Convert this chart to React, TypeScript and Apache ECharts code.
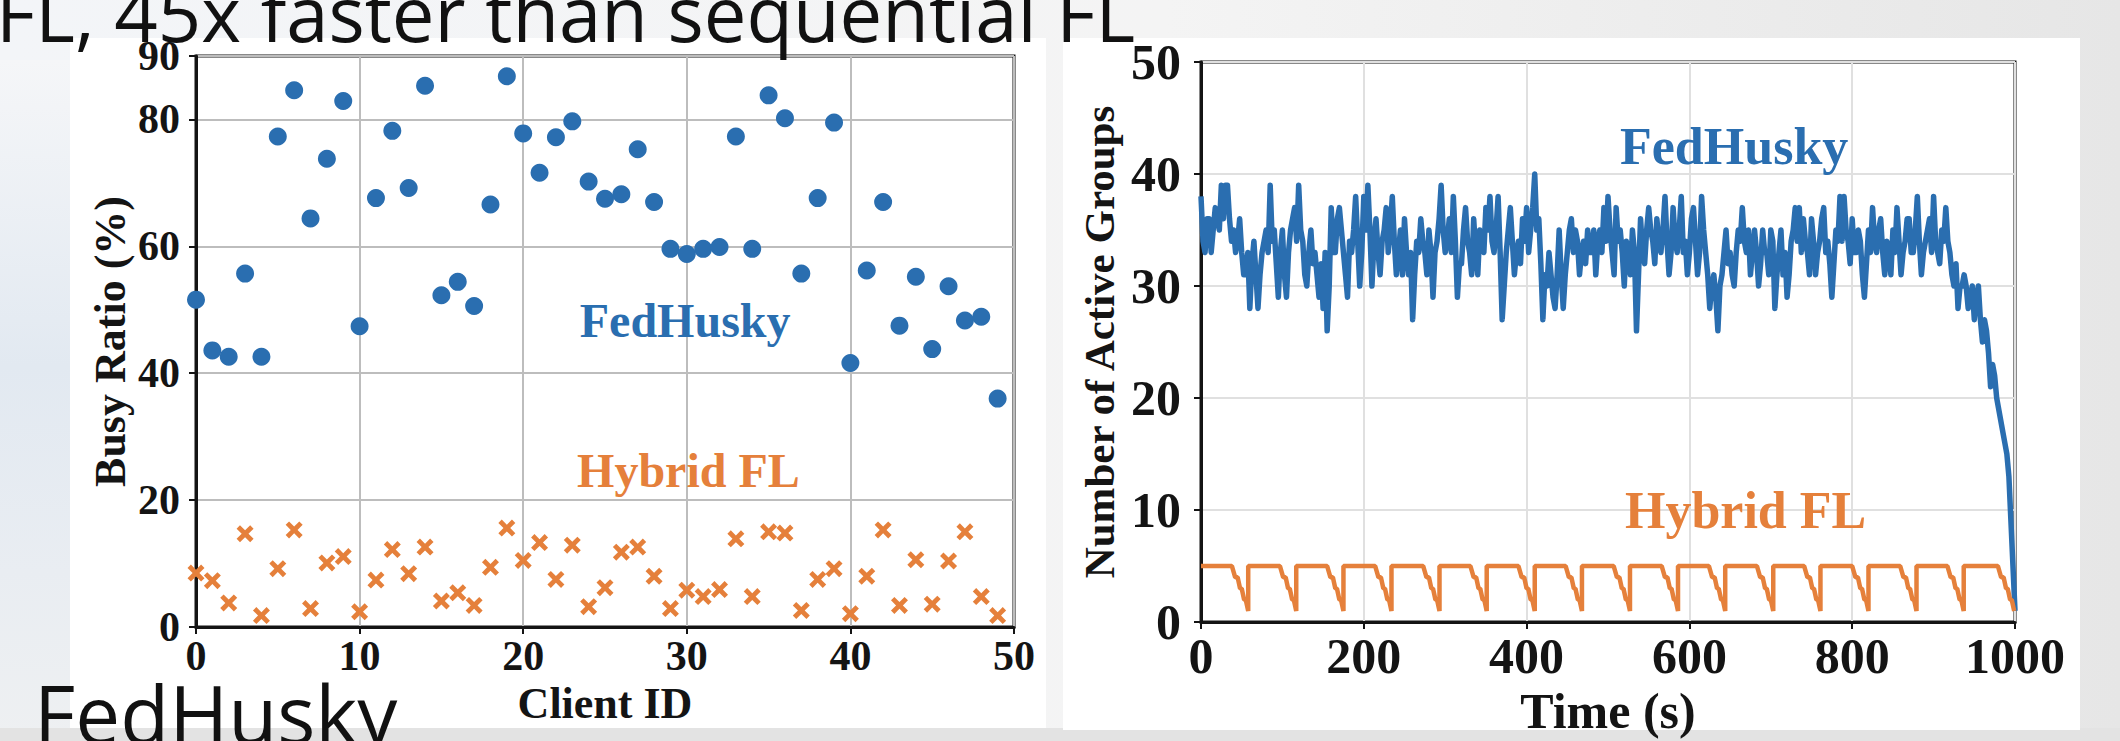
import React, { useEffect, useRef } from "react";
import * as echarts from "echarts";

// ---------- Left chart: busy ratio per client ----------
const clientIds = [
  0, 1, 2, 3, 4, 5, 6, 7, 8, 9, 10, 11, 12, 13, 14, 15, 16, 17, 18, 19, 20, 21, 22, 23, 24,
  25, 26, 27, 28, 29, 30, 31, 32, 33, 34, 35, 36, 37, 38, 39, 40, 41, 42, 43, 44, 45, 46, 47, 48, 49,
];
const fedHuskyBusy = [
  51.6, 43.6, 42.6, 55.7, 42.6, 77.3, 84.6, 64.4, 73.8, 82.9, 47.4, 67.6, 78.2, 69.2, 85.3, 52.3,
  54.4, 50.6, 66.6, 86.8, 77.8, 71.6, 77.2, 79.7, 70.2, 67.5, 68.2, 75.3, 67.0, 59.6, 58.8, 59.6,
  59.9, 77.3, 59.6, 83.8, 80.2, 55.7, 67.6, 79.5, 41.6, 56.2, 67.0, 47.5, 55.2, 43.8, 53.7, 48.3,
  48.9, 36.0,
];
const hybridBusy = [
  8.5, 7.3, 3.8, 14.7, 1.8, 9.2, 15.3, 2.9, 10.1, 11.1, 2.4, 7.4, 12.2, 8.4, 12.6, 4.1, 5.4, 3.4,
  9.4, 15.6, 10.5, 13.3, 7.5, 12.9, 3.2, 6.2, 11.8, 12.6, 8.0, 2.9, 5.8, 4.8, 5.9, 13.9, 4.8, 15.0,
  14.8, 2.6, 7.5, 9.2, 2.1, 8.0, 15.3, 3.4, 10.6, 3.6, 10.4, 15.0, 4.8, 1.8,
];
const leftXTicks = [0, 10, 20, 30, 40, 50];
const leftYTicks = [0, 20, 40, 60, 80, 90];

// ---------- Right chart: number of active groups over time ----------
const timeStep = 2.5; // seconds between FedHusky samples
const fedHuskyGroups = [
  38, 34, 33, 36, 36, 33, 35, 37, 36, 35, 39, 36, 39, 39, 36, 34, 35, 33, 34, 36,
  33, 31, 31, 33, 28, 32, 34, 31, 28, 31, 33, 34, 35, 33, 39, 34, 35, 32, 29, 33,
  35, 31, 29, 33, 35, 36, 37, 34, 39, 35, 34, 31, 30, 33, 35, 32, 33, 31, 29, 32,
  28, 33, 26, 30, 37, 33, 33, 36, 37, 35, 33, 31, 29, 34, 33, 35, 38, 34, 30, 33,
  38, 35, 39, 35, 30, 34, 36, 33, 31, 34, 35, 37, 33, 35, 38, 34, 31, 33, 35, 31,
  36, 33, 31, 33, 27, 31, 34, 33, 36, 34, 33, 31, 35, 33, 29, 33, 34, 36, 39, 35,
  33, 34, 36, 33, 38, 34, 29, 32, 32, 35, 37, 34, 33, 31, 36, 33, 31, 35, 34, 33,
  37, 35, 38, 34, 33, 35, 38, 33, 27, 30, 33, 35, 37, 34, 31, 33, 34, 32, 36, 34,
  37, 33, 35, 37, 40, 35, 36, 32, 27, 31, 30, 33, 31, 29, 28, 31, 35, 31, 28, 31,
  33, 35, 36, 33, 35, 34, 31, 33, 34, 32, 35, 33, 33, 35, 31, 34, 35, 33, 37, 34,
  38, 35, 33, 31, 37, 34, 35, 33, 30, 34, 33, 31, 35, 33, 26, 31, 36, 33, 32, 35,
  37, 35, 34, 32, 36, 34, 33, 35, 38, 34, 31, 33, 37, 34, 33, 35, 38, 33, 34, 31,
  33, 36, 37, 34, 31, 33, 38, 35, 33, 31, 28, 30, 31, 29, 26, 30, 31, 33, 35, 32,
  33, 31, 30, 33, 35, 34, 37, 34, 33, 35, 31, 33, 35, 33, 30, 32, 35, 33, 33, 31,
  35, 34, 28, 31, 33, 35, 31, 33, 29, 31, 34, 35, 37, 34, 37, 33, 36, 34, 33, 31,
  36, 34, 31, 33, 34, 36, 37, 33, 34, 32, 29, 32, 35, 34, 38, 34, 38, 35, 34, 32,
  36, 33, 33, 35, 34, 31, 29, 32, 35, 33, 37, 34, 33, 35, 36, 33, 31, 34, 33, 31,
  35, 33, 37, 34, 31, 33, 34, 36, 36, 33, 33, 35, 38, 34, 31, 33, 34, 35, 36, 33,
  38, 34, 33, 32, 35, 34, 37, 34, 33, 31, 30, 32, 28, 30, 30, 31, 30, 28, 29, 30,
  27, 29, 30, 27, 25, 27, 26, 24, 21, 23, 22, 20, 19, 18, 17, 16, 15, 13, 9, 5,
  1,
];
const hybridGroups: [number, number][] = [
  [0, 5], [38, 5], [42, 4], [45, 4], [48, 3], [50, 3], [53, 2], [55, 2], [58, 1], [58, 5],
  [97, 5], [101, 4], [104, 4], [107, 3], [109, 3], [112, 2], [114, 2], [117, 1], [117, 5],
  [155, 5], [159, 4], [162, 4], [165, 3], [167, 3], [170, 2], [172, 2], [175, 1], [175, 5],
  [214, 5], [218, 4], [221, 4], [224, 3], [226, 3], [229, 2], [231, 2], [234, 1], [234, 5],
  [273, 5], [277, 4], [280, 4], [283, 3], [285, 3], [288, 2], [290, 2], [293, 1], [293, 5],
  [331, 5], [335, 4], [338, 4], [341, 3], [343, 3], [346, 2], [348, 2], [351, 1], [351, 5],
  [390, 5], [394, 4], [397, 4], [400, 3], [402, 3], [405, 2], [407, 2], [410, 1], [410, 5],
  [448, 5], [452, 4], [455, 4], [458, 3], [460, 3], [463, 2], [465, 2], [468, 1], [468, 5],
  [507, 5], [511, 4], [514, 4], [517, 3], [519, 3], [522, 2], [524, 2], [527, 1], [527, 5],
  [566, 5], [570, 4], [573, 4], [576, 3], [578, 3], [581, 2], [583, 2], [586, 1], [586, 5],
  [624, 5], [628, 4], [631, 4], [634, 3], [636, 3], [639, 2], [641, 2], [644, 1], [644, 5],
  [683, 5], [687, 4], [690, 4], [693, 3], [695, 3], [698, 2], [700, 2], [703, 1], [703, 5],
  [741, 5], [745, 4], [748, 4], [751, 3], [753, 3], [756, 2], [758, 2], [761, 1], [761, 5],
  [800, 5], [804, 4], [807, 4], [810, 3], [812, 3], [815, 2], [817, 2], [820, 1], [820, 5],
  [859, 5], [863, 4], [866, 4], [869, 3], [871, 3], [874, 2], [876, 2], [879, 1], [879, 5],
  [917, 5], [921, 4], [924, 4], [927, 3], [929, 3], [932, 2], [934, 2], [937, 1], [937, 5],
  [979, 5], [983, 4], [986, 4], [989, 3], [991, 3], [994, 2], [996, 2], [999, 1],
];

// label anchor positions (data coordinates)
const leftFedLabel = [29.9, 48.3];
const leftHybLabel = [30.1, 24.7];
const rightFedLabel = [655, 42.5];
const rightHybLabel = [669, 10.0];

const SERIF = "'Liberation Serif', 'Times New Roman', serif";
const SANS = "'Open Sans', 'Noto Sans', sans-serif";
const BLUE = "#2a6eb0";
const ORANGE = "#e5803b";
const INK = "#141414";
const XPATH = "path://M0,2L2,0L5,3L8,0L10,2L7,5L10,8L8,10L5,7L2,10L0,8L3,5Z";

function axisCommon(fontSize: number, margin: number) {
  return {
    axisLine: { show: true, onZero: false, lineStyle: { color: INK, width: 3 } },
    axisTick: { show: true, inside: false, length: 7, lineStyle: { color: INK, width: 2 } },
    axisLabel: {
      fontFamily: SERIF,
      fontWeight: "bold" as const,
      fontSize,
      color: INK,
      margin,
      formatter: (v: number) => String(v),
    },
  };
}

function labelSeries(idx: number, name: string, pt: number[], size: number, color: string) {
  return {
    type: "scatter",
    xAxisIndex: idx,
    yAxisIndex: idx,
    data: [pt],
    symbolSize: 1,
    silent: true,
    z: 6,
    itemStyle: { color: "rgba(0,0,0,0)", opacity: 0 },
    label: {
      show: true,
      position: "inside",
      formatter: name,
      fontFamily: SERIF,
      fontWeight: "bold",
      fontSize: size,
      color,
      opacity: 1,
      textBorderWidth: 0,
      textBorderColor: "transparent",
    },
  };
}

export default function App() {
  const ref = useRef<HTMLDivElement>(null);
  useEffect(() => {
    if (!ref.current) return;
    const chart = echarts.init(ref.current, undefined, { renderer: "svg" });
    const fedTime = fedHuskyGroups.map((v, i) => [i * timeStep, v]);
    const option: any = {
      animation: false,
      backgroundColor: "#eceef1",
      graphic: [
        {
          type: "rect", z: -100, silent: true,
          shape: { x: 0, y: 0, width: 2120, height: 741 },
          style: {
            fill: new echarts.graphic.LinearGradient(0, 0, 1, 0, [
              { offset: 0, color: "#f3f5f8" },
              { offset: 0.55, color: "#f4f4f4" },
              { offset: 1, color: "#e6e6e6" },
            ]),
          },
        },
        {
          type: "rect", z: -99, silent: true,
          shape: { x: 0, y: 60, width: 70, height: 681 },
          style: {
            fill: new echarts.graphic.LinearGradient(0, 0, 0, 1, [
              { offset: 0, color: "#f5f6f8" },
              { offset: 0.45, color: "#e2e9f1" },
              { offset: 0.75, color: "#e9edf2" },
              { offset: 1, color: "#eef0f2" },
            ]),
          },
        },
        {
          type: "rect", z: -98, silent: true,
          shape: { x: 0, y: 728, width: 2120, height: 13 },
          style: { fill: "#e3e3e3" },
        },
        {
          type: "rect", z: -90, silent: true,
          shape: { x: 70, y: 38, width: 976, height: 690 },
          style: { fill: "#ffffff" },
        },
        {
          type: "rect", z: -90, silent: true,
          shape: { x: 1063, y: 38, width: 1017, height: 692 },
          style: { fill: "#ffffff" },
        },
        {
          type: "text", z: 100, silent: true,
          x: -4, y: 50,
          style: {
            text: "FL, 45x faster than sequential FL",
            font: `76px ${SANS}`,
            fill: "#111111",
            verticalAlign: "bottom",
          },
        },
        {
          type: "text", z: 100, silent: true,
          x: 34, y: 752,
          style: {
            text: "FedHusky",
            font: `80px ${SANS}`,
            fill: "#111111",
            verticalAlign: "bottom",
          },
        },
      ],
      grid: [
        { left: 196, top: 56, width: 818, height: 571, show: true, borderColor: INK, borderWidth: 3, backgroundColor: "#ffffff" },
        { left: 1201, top: 62, width: 814, height: 566, show: true, borderColor: INK, borderWidth: 3, backgroundColor: "#ffffff" },
      ],
      xAxis: [
        {
          gridIndex: 0, type: "value",
          min: leftXTicks[0], max: leftXTicks[leftXTicks.length - 1], interval: 10,
          ...axisCommon(42, 8),
          splitLine: { show: true, lineStyle: { color: "#bdbdbd", width: 2 } },
          name: "Client ID", nameLocation: "middle", nameGap: 54,
          nameTextStyle: { fontFamily: SERIF, fontWeight: "bold", fontSize: 44, color: INK },
        },
        {
          gridIndex: 1, type: "value", min: 0, max: 1000, interval: 200,
          ...axisCommon(50, 9),
          splitLine: { show: true, lineStyle: { color: "#e0e0e0", width: 2 } },
          name: "Time (s)", nameLocation: "middle", nameGap: 62,
          nameTextStyle: { fontFamily: SERIF, fontWeight: "bold", fontSize: 50, color: INK },
        },
      ],
      yAxis: [
        {
          gridIndex: 0, type: "value",
          min: leftYTicks[0], max: leftYTicks[leftYTicks.length - 1], interval: 20,
          ...axisCommon(42, 16),
          splitLine: { show: true, lineStyle: { color: "#bdbdbd", width: 2 } },
          name: "Busy Ratio (%)", nameLocation: "middle", nameGap: 64, nameRotate: 90,
          nameTextStyle: { fontFamily: SERIF, fontWeight: "bold", fontSize: 44, color: INK },
        },
        {
          gridIndex: 1, type: "value", min: 0, max: 50, interval: 10,
          ...axisCommon(50, 20),
          splitLine: { show: true, lineStyle: { color: "#e0e0e0", width: 2 } },
          name: "Number of Active Groups", nameLocation: "middle", nameGap: 80, nameRotate: 90,
          nameTextStyle: { fontFamily: SERIF, fontWeight: "bold", fontSize: 43, color: INK },
        },
      ],
      series: [
        {
          name: "FedHusky", type: "scatter", xAxisIndex: 0, yAxisIndex: 0,
          data: clientIds.map((c, i) => [c, fedHuskyBusy[i]]),
          symbol: "circle", symbolSize: 18, itemStyle: { color: BLUE, opacity: 1 }, z: 4,
        },
        {
          name: "Hybrid FL", type: "scatter", xAxisIndex: 0, yAxisIndex: 0,
          data: clientIds.map((c, i) => [c, hybridBusy[i]]),
          symbol: XPATH, symbolSize: 17, itemStyle: { color: ORANGE, opacity: 1 }, z: 4,
        },
        {
          name: "FedHusky", type: "line", xAxisIndex: 1, yAxisIndex: 1,
          data: fedTime, symbol: "none", showSymbol: false,
          lineStyle: { color: BLUE, width: 5.5, join: "round" }, z: 3,
        },
        {
          name: "Hybrid FL", type: "line", xAxisIndex: 1, yAxisIndex: 1,
          data: hybridGroups, symbol: "none", showSymbol: false,
          lineStyle: { color: ORANGE, width: 4.5 }, z: 4,
        },
        labelSeries(0, "FedHusky", leftFedLabel, 48, BLUE),
        labelSeries(0, "Hybrid FL", leftHybLabel, 48, ORANGE),
        labelSeries(1, "FedHusky", rightFedLabel, 52, BLUE),
        labelSeries(1, "Hybrid FL", rightHybLabel, 52, ORANGE),
      ],
    };
    chart.setOption(option);
    return () => chart.dispose();
  }, []);
  return (
    <div
      ref={ref}
      style={{ position: "fixed", left: 0, top: 0, width: 2120, height: 741 }}
    />
  );
}
